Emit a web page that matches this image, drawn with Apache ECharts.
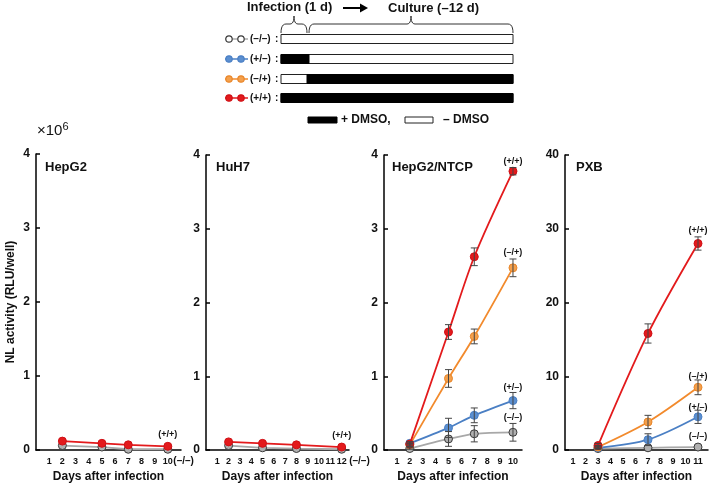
<!DOCTYPE html>
<html><head><meta charset="utf-8">
<script src="https://cdn.jsdelivr.net/npm/echarts@6/dist/echarts.min.js"></script>
<style>html,body{margin:0;padding:0;background:#fff}#c{width:709px;height:488px}</style>
</head><body><div id="c"></div>
<script>
// ---------- data ----------
const panelTitles = ['HepG2', 'HuH7', 'HepG2/NTCP', 'PXB'];
const xTicks1 = [1,2,3,4,5,6,7,8,9,10];
const xTicks2 = [1,2,3,4,5,6,7,8,9,10,11,12];
const xTicks3 = [1,2,3,4,5,6,7,8,9,10];
const xTicks4 = [1,2,3,4,5,6,7,8,9,10,11];

const days1 = [2,5,7,10];
const hepg2PP = [0.12,0.09,0.07,0.05];
const hepg2MM = [0.06,0.04,0.01,0.01];

const days2 = [2,5,8,12];
const huh7PP = [0.11,0.09,0.07,0.04];
const huh7MM = [0.06,0.03,0.02,0.01];

const days3 = [2,5,7,10];
const ntcpPP = [0.08,1.60,2.62,3.78];
const ntcpPPerr = [0.03,0.10,0.12,0.05];
const ntcpMP = [0.07,0.97,1.54,2.47];
const ntcpMPerr = [0.02,0.12,0.10,0.12];
const ntcpPM = [0.09,0.30,0.47,0.67];
const ntcpPMerr = [0.02,0.13,0.10,0.11];
const ntcpMM = [0.02,0.15,0.22,0.24];
const ntcpMMerr = [0.01,0.10,0.11,0.12];

const days4 = [3,7,11];
const pxbPP = [0.6,15.8,28.0];
const pxbPPerr = [0.3,1.3,0.9];
const pxbMP = [0.4,3.8,8.5];
const pxbMPerr = [0.2,0.9,1.0];
const pxbPM = [0.3,1.4,4.5];
const pxbPMerr = [0.2,0.8,0.9];
const pxbMM = [0.2,0.3,0.4];
const pxbMMerr = [0,0,0];

const groupNames = ['(–/–)', '(+/–)', '(–/+)', '(+/+)'];

// ---------- style ----------
const FONT = "'Liberation Sans Narrow','Arial Narrow','Liberation Sans',Arial,sans-serif";
const C = {mm:'#a8a8a8', pm:'#4a7fc4', mp:'#f28a2c', pp:'#e31a1c'};
const MK = {mm:'#b0b0b0', pm:'#5b8fd0', mp:'#f4a04c', pp:'#e31a1c'};
const BORDER = {mm:'#3a3a3a', pm:'#4a7fc4', mp:'#e8862a', pp:'#d01016'};

const grids = [
  {left:36, top:154, width:145, height:298},
  {left:206, top:155, width:143, height:297},
  {left:384, top:155, width:138, height:297},
  {left:565, top:155, width:143, height:296}
];
const xRanges = [[0,11],[0,12.65],[0,10.7],[0.36,11.8]];
const xTickSets = [xTicks1,xTicks2,xTicks3,xTicks4];
const yMax = [4,4,4,40];
const yInt = [1,1,1,10];

const xAxes = grids.map((gr,i)=>({
  gridIndex:i, type:'value', min:xRanges[i][0], max:xRanges[i][1],
  axisLine:{lineStyle:{color:'#000', width:1.5}},
  axisTick:{show:false}, splitLine:{show:false},
  axisLabel:{customValues:xTickSets[i], color:'#111', fontSize:9, fontWeight:'bold', fontFamily:FONT, margin:7},
  name:'Days after infection', nameLocation:'middle', nameGap:21,
  nameTextStyle:{color:'#111', fontSize:12, fontWeight:'bold', fontFamily:FONT}
}));
const yAxes = grids.map((gr,i)=>({
  gridIndex:i, type:'value', min:0, max:yMax[i], interval:yInt[i],
  axisLine:{show:true, lineStyle:{color:'#000', width:1.5}},
  axisTick:{show:true, inside:true, length:4, lineStyle:{color:'#000', width:1.5}},
  splitLine:{show:false},
  axisLabel:{color:'#111', fontSize:12, fontWeight:'bold', fontFamily:FONT, margin:6}
}));
yAxes[0].name = 'NL activity (RLU/well)';
yAxes[0].nameLocation = 'middle';
yAxes[0].nameGap = 19;
yAxes[0].nameTextStyle = {color:'#111', fontSize:12, fontWeight:'bold', fontFamily:FONT};

function zip(xs, ys){ return xs.map((x,k)=>[x, ys[k]]); }
function zip3(xs, ys, es){ return xs.map((x,k)=>[x, ys[k], es[k]]); }

const series = [];
function addLine(i, key, xs, ys, labelText, smooth, labelOpt){
  const data = zip(xs, ys).map((d,k)=>{
    if (labelText && k === xs.length-1) {
      return {value:d, label:Object.assign({show:true, formatter:labelText, position:'top', distance:6,
        color:'#111', fontSize:9, fontWeight:'bold', fontFamily:FONT}, labelOpt||{})};
    }
    return d;
  });
  series.push({
    type:'line', xAxisIndex:i, yAxisIndex:i, data:data, smooth:smooth,
    symbol:'circle', symbolSize:8,
    lineStyle:{color:C[key], width:1.8},
    itemStyle:{color:MK[key], borderColor:BORDER[key], borderWidth:1},
    z: key==='pp'?6:(key==='mp'?5:(key==='pm'?4:3)),
    silent:true, animation:false
  });
}
function addErr(i, xs, ys, es){
  series.push({
    type:'custom', xAxisIndex:i, yAxisIndex:i, data:zip3(xs, ys, es), z:10, silent:true, animation:false,
    renderItem:function(params, api){
      const x = api.value(0), y = api.value(1), e = api.value(2);
      if (!e) return null;
      const lo = api.coord([x, y-e]), hi = api.coord([x, y+e]);
      const st = {stroke:'#444', lineWidth:1};
      return {type:'group', children:[
        {type:'line', shape:{x1:lo[0], y1:lo[1], x2:hi[0], y2:hi[1]}, style:st},
        {type:'line', shape:{x1:lo[0]-3.5, y1:lo[1], x2:lo[0]+3.5, y2:lo[1]}, style:st},
        {type:'line', shape:{x1:hi[0]-3.5, y1:hi[1], x2:hi[0]+3.5, y2:hi[1]}, style:st}
      ]};
    }
  });
}

// Panel 1 HepG2
addLine(0,'mm',days1,hepg2MM,groupNames[0],false,{position:'right', distance:1, offset:[0,12], fontSize:10});
addLine(0,'pp',days1,hepg2PP,groupNames[3],false,{distance:3});
// Panel 2 HuH7
addLine(1,'mm',days2,huh7MM,groupNames[0],false,{position:'right', distance:3, offset:[0,12], fontSize:10});
addLine(1,'pp',days2,huh7PP,groupNames[3],false,{distance:3});
// Panel 3 HepG2/NTCP
addLine(2,'mm',days3,ntcpMM,groupNames[0],0.3,{distance:6});
addLine(2,'pm',days3,ntcpPM,groupNames[1],0.3,{distance:4});
addLine(2,'mp',days3,ntcpMP,groupNames[2],0.3,{distance:6});
addLine(2,'pp',days3,ntcpPP,groupNames[3],0.3,{distance:1});
addErr(2,days3,ntcpMM,ntcpMMerr);
addErr(2,days3,ntcpPM,ntcpPMerr);
addErr(2,days3,ntcpMP,ntcpMPerr);
addErr(2,days3,ntcpPP,ntcpPPerr);
// Panel 4 PXB
addLine(3,'mm',days4,pxbMM,groupNames[0],0.3,{distance:2});
addLine(3,'pm',days4,pxbPM,groupNames[1],0.3,{distance:0});
addLine(3,'mp',days4,pxbMP,groupNames[2],0.3,{distance:2});
addLine(3,'pp',days4,pxbPP,groupNames[3],0.3,{distance:4});
addErr(3,days4,pxbMM,pxbMMerr);
addErr(3,days4,pxbPM,pxbPMerr);
addErr(3,days4,pxbMP,pxbMPerr);
addErr(3,days4,pxbPP,pxbPPerr);

// ---------- top diagram (schematic) ----------
const g = [];
const txt = (x,y,t,size,align)=>({type:'text', x:x, y:y, style:{text:t, fill:'#111', font:'bold '+(size||12)+'px '+FONT, textAlign:align||'left', textVerticalAlign:'middle'}});
g.push(txt(247,7,'Infection (1 d)',13));
g.push(txt(388,8,'Culture (–12 d)',13));
g.push({type:'line', shape:{x1:343,y1:8,x2:366,y2:8}, style:{stroke:'#000', lineWidth:2}});
g.push({type:'polygon', shape:{points:[[368,8],[360,3.5],[360,12.5]]}, style:{fill:'#000'}});
function quad(p0,p1,p2,n){
  const pts=[];
  for(let k=0;k<=n;k++){const t=k/n;const a=(1-t)*(1-t),b=2*(1-t)*t,c=t*t;
    pts.push([a*p0[0]+b*p1[0]+c*p2[0], a*p0[1]+b*p1[1]+c*p2[1]]);}
  return pts;
}
function brace(x1,x2){
  const m=(x1+x2)/2;
  const pts=[].concat(
    quad([x1,33],[x1,24],[x1+5,24],6),
    quad([m-4,24],[m,24],[m,16],6),
    quad([m,16],[m,24],[m+4,24],6),
    quad([x2-5,24],[x2,24],[x2,33],6));
  return {type:'polyline', shape:{points:pts}, style:{stroke:'#333', fill:null, lineWidth:1}};
}
g.push(brace(281,307));
g.push(brace(309,513));
const rowsY = [39,59,79,98];
const legendKeys = ['mm','pm','mp','pp'];
const barBlack = [null,[281,309],[307,513],[281,513]];
rowsY.forEach((y,r)=>{
  const k = legendKeys[r];
  g.push({type:'line', shape:{x1:225,y1:y,x2:248,y2:y}, style:{stroke:C[k], lineWidth:1.5}});
  [229,241].forEach(cx=>g.push({type:'circle', shape:{cx:cx, cy:y, r:3.2},
    style:{fill: k==='mm'?'#fff':MK[k], stroke: BORDER[k], lineWidth:1.2}}));
  g.push(txt(250,y,groupNames[r],10));
  g.push(txt(275,y,':',10));
  g.push({type:'rect', shape:{x:281,y:y-4.5,width:232,height:9}, style:{fill:'#fff', stroke:'#222', lineWidth:1}});
  if (barBlack[r]) g.push({type:'rect', shape:{x:barBlack[r][0],y:y-4.5,width:barBlack[r][1]-barBlack[r][0],height:9}, style:{fill:'#000', stroke:'#000', lineWidth:1}});
});
g.push({type:'rect', shape:{x:308,y:117,width:29,height:6}, style:{fill:'#000', stroke:'#000'}});
g.push(txt(341,120,'+ DMSO,',12));
g.push({type:'rect', shape:{x:405,y:117,width:28,height:6}, style:{fill:'#fff', stroke:'#222', lineWidth:1}});
g.push(txt(443,120,'– DMSO',12));
const titlePos = [[45,167],[216,167],[392,167],[576,167]];
panelTitles.forEach((t,i)=>g.push(txt(titlePos[i][0],titlePos[i][1],t,13)));
g.push({type:'text', x:37, y:131, style:{text:'{a|×10}{b|6}', rich:{a:{fontSize:15, fontFamily:FONT, fill:'#111'}, b:{fontSize:11, fontFamily:FONT, fill:'#111', verticalAlign:'top', padding:[0,0,8,0]}}, textVerticalAlign:'middle'}});

const chart = echarts.init(document.getElementById('c'), null, {renderer:'canvas'});
chart.setOption({
  animation:false,
  backgroundColor:'#fff',
  grid:grids,
  xAxis:xAxes,
  yAxis:yAxes,
  series:series,
  graphic:g
});
</script></body></html>
